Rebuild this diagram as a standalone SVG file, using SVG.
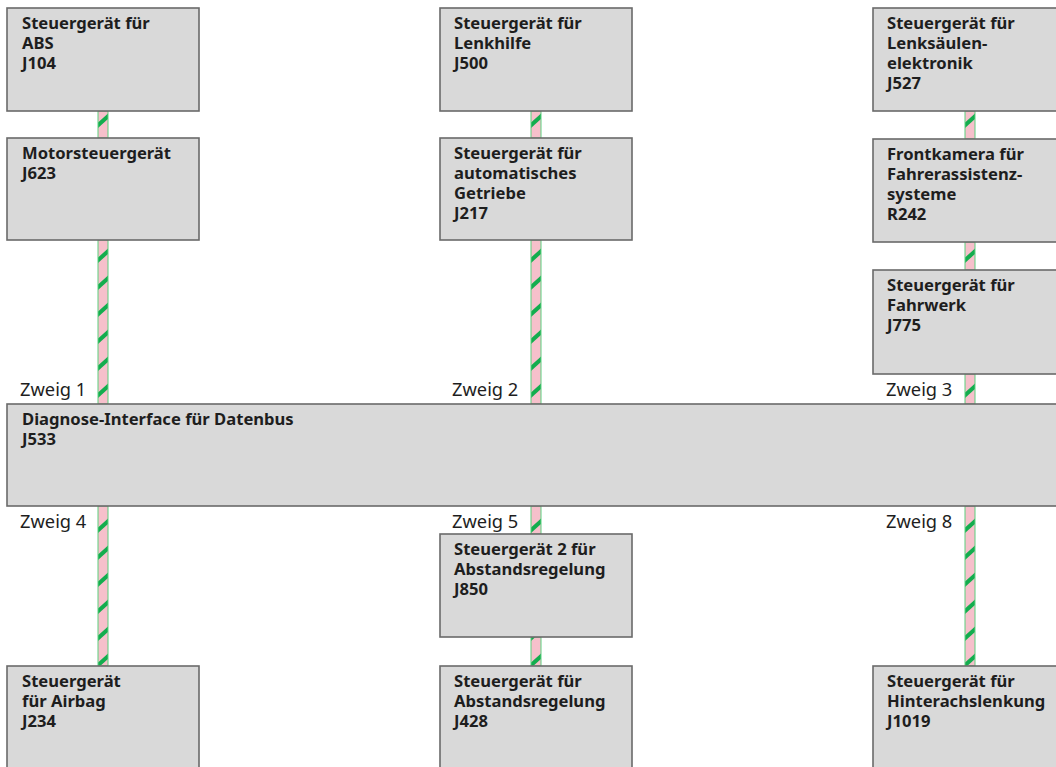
<svg xmlns="http://www.w3.org/2000/svg" width="1056" height="767" viewBox="0 0 1056 767">
  <style>
    .box { fill: #d9d9d9; stroke: #6a6a6a; stroke-width: 1.6; }
    .lbl { font-family: "Noto Sans", "Open Sans", sans-serif; font-weight: bold; font-size: 16.6px; fill: #1e1e1e; }
    .zw { font-family: "Noto Sans", "Open Sans", sans-serif; font-size: 18.3px; fill: #1e1e1e; }
    .wire { fill: url(#twist); stroke: #5ccf7e; stroke-width: 1; }
  </style>
  <defs>
    <!-- twisted-pair CAN wire: pink core with green spiral stripes -->
    <pattern id="twist" patternUnits="userSpaceOnUse" x="0" y="0" width="10" height="27">
      <rect x="0" y="0" width="10" height="27" fill="#f6c0cb"/>
      <polygon points="0,14.5 10,5.5 10,11 0,20" fill="#13ad4e"/>
    </pattern>
  </defs>
  <rect width="1056" height="767" fill="#ffffff"/>

  <!-- connectors -->
  <g id="connectors">
    <g transform="translate(98,0)">
      <rect class="wire" x="0" y="111" width="10" height="27"/>
      <rect class="wire" x="0" y="240" width="10" height="164"/>
      <rect class="wire" x="0" y="506" width="10" height="160"/>
    </g>
    <g transform="translate(531,0)">
      <rect class="wire" x="0" y="111" width="10" height="27"/>
      <rect class="wire" x="0" y="240" width="10" height="164"/>
      <rect class="wire" x="0" y="506" width="10" height="28"/>
      <rect class="wire" x="0" y="637" width="10" height="29"/>
    </g>
    <g transform="translate(965,0)">
      <rect class="wire" x="0" y="111" width="10" height="28"/>
      <rect class="wire" x="0" y="242" width="10" height="28"/>
      <rect class="wire" x="0" y="374" width="10" height="30"/>
      <rect class="wire" x="0" y="506" width="10" height="160"/>
    </g>
  </g>

  <!-- branch labels -->
  <g id="branch-labels">
    <text class="zw" x="20" y="396">Zweig 1</text>
    <text class="zw" x="452" y="396">Zweig 2</text>
    <text class="zw" x="886" y="396">Zweig 3</text>
    <text class="zw" x="20" y="528">Zweig 4</text>
    <text class="zw" x="452" y="528">Zweig 5</text>
    <text class="zw" x="886" y="528">Zweig 8</text>
  </g>

  <!-- column 1 -->
  <g id="J104">
    <rect class="box" x="7" y="8" width="192" height="103"/>
    <text class="lbl" x="22" y="29"><tspan x="22">Steuergerät für</tspan><tspan x="22" dy="20">ABS</tspan><tspan x="22" dy="20">J104</tspan></text>
  </g>
  <g id="J623">
    <rect class="box" x="7" y="138" width="192" height="102"/>
    <text class="lbl" x="22" y="159"><tspan x="22">Motorsteuergerät</tspan><tspan x="22" dy="20">J623</tspan></text>
  </g>
  <g id="J234">
    <rect class="box" x="7" y="666" width="192" height="110"/>
    <text class="lbl" x="22" y="687"><tspan x="22">Steuergerät</tspan><tspan x="22" dy="20">für Airbag</tspan><tspan x="22" dy="20">J234</tspan></text>
  </g>

  <!-- column 2 -->
  <g id="J500">
    <rect class="box" x="440" y="8" width="192" height="103"/>
    <text class="lbl" x="454" y="29"><tspan x="454">Steuergerät für</tspan><tspan x="454" dy="20">Lenkhilfe</tspan><tspan x="454" dy="20">J500</tspan></text>
  </g>
  <g id="J217">
    <rect class="box" x="440" y="138" width="192" height="102"/>
    <text class="lbl" x="454" y="159"><tspan x="454">Steuergerät für</tspan><tspan x="454" dy="20">automatisches</tspan><tspan x="454" dy="20">Getriebe</tspan><tspan x="454" dy="20">J217</tspan></text>
  </g>
  <g id="J850">
    <rect class="box" x="440" y="534" width="192" height="103"/>
    <text class="lbl" x="454" y="555"><tspan x="454">Steuergerät 2 für</tspan><tspan x="454" dy="20">Abstandsregelung</tspan><tspan x="454" dy="20">J850</tspan></text>
  </g>
  <g id="J428">
    <rect class="box" x="440" y="666" width="192" height="110"/>
    <text class="lbl" x="454" y="687"><tspan x="454">Steuergerät für</tspan><tspan x="454" dy="20">Abstandsregelung</tspan><tspan x="454" dy="20">J428</tspan></text>
  </g>

  <!-- column 3 -->
  <g id="J527">
    <rect class="box" x="873" y="8" width="192" height="103"/>
    <text class="lbl" x="887" y="29"><tspan x="887">Steuergerät für</tspan><tspan x="887" dy="20">Lenksäulen-</tspan><tspan x="887" dy="20">elektronik</tspan><tspan x="887" dy="20">J527</tspan></text>
  </g>
  <g id="R242">
    <rect class="box" x="873" y="139" width="192" height="103"/>
    <text class="lbl" x="887" y="160"><tspan x="887">Frontkamera für</tspan><tspan x="887" dy="20">Fahrerassistenz-</tspan><tspan x="887" dy="20">systeme</tspan><tspan x="887" dy="20">R242</tspan></text>
  </g>
  <g id="J775">
    <rect class="box" x="873" y="270" width="192" height="104"/>
    <text class="lbl" x="887" y="291"><tspan x="887">Steuergerät für</tspan><tspan x="887" dy="20">Fahrwerk</tspan><tspan x="887" dy="20">J775</tspan></text>
  </g>
  <g id="J1019">
    <rect class="box" x="873" y="666" width="192" height="110"/>
    <text class="lbl" x="887" y="687"><tspan x="887">Steuergerät für</tspan><tspan x="887" dy="20">Hinterachslenkung</tspan><tspan x="887" dy="20">J1019</tspan></text>
  </g>

  <!-- gateway bar -->
  <g id="J533">
    <rect class="box" x="7" y="404" width="1060" height="102"/>
    <text class="lbl" x="22" y="425"><tspan x="22">Diagnose-Interface für Datenbus</tspan><tspan x="22" dy="20">J533</tspan></text>
  </g>
</svg>
